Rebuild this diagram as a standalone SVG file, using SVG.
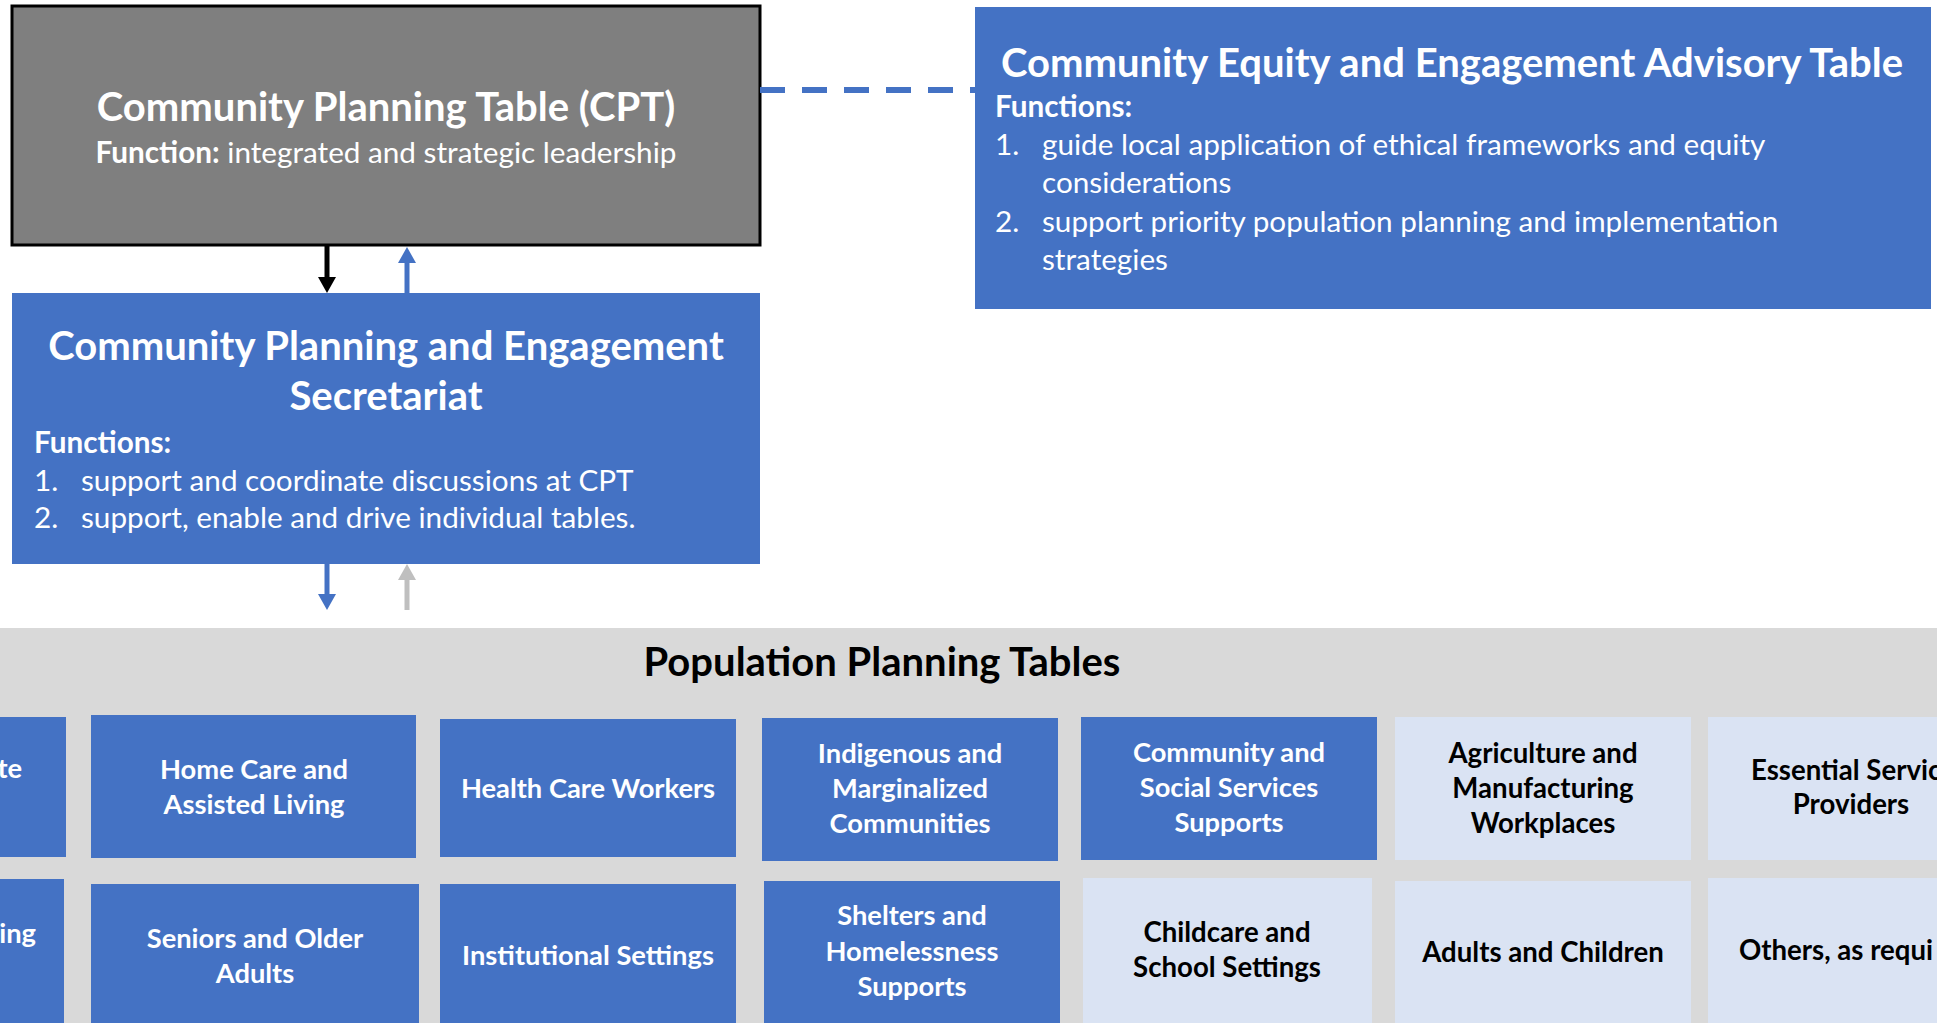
<svg xmlns="http://www.w3.org/2000/svg" width="1937" height="1023" viewBox="0 0 1937 1023">
<style>
text{font-family:Lato,"Open Sans","Liberation Sans",sans-serif}
.title{font-size:40px;font-weight:bold;fill:#fff;text-anchor:middle}
.body{font-size:29.7px;fill:#fff}
.b{font-weight:bold}
.blue{fill:#4472C4}
.light{fill:#DAE3F3}
.tw{font-size:27.3px;font-weight:bold;fill:#fff;text-anchor:middle}
.tk{font-size:27.6px;font-weight:bold;fill:#000;text-anchor:middle}
.conn{fill:none;stroke-width:5}
</style>
<defs>
<marker id="hBlack" markerUnits="userSpaceOnUse" markerWidth="18" markerHeight="18" refX="4" refY="9" orient="auto"><path d="M0,0 L16,9 L0,18 z" fill="#000"/></marker>
<marker id="hBlue" markerUnits="userSpaceOnUse" markerWidth="18" markerHeight="18" refX="4" refY="9" orient="auto"><path d="M0,0 L16,9 L0,18 z" fill="#4472C4"/></marker>
<marker id="hGray" markerUnits="userSpaceOnUse" markerWidth="18" markerHeight="18" refX="4" refY="9" orient="auto"><path d="M0,0 L16,9 L0,18 z" fill="#BFBFBF"/></marker>
</defs>
<rect x="0" y="0" width="1937" height="1023" fill="#fff"/>

<g id="population-planning-tables">
<rect x="0" y="628" width="1937" height="395" fill="#D9D9D9"/>
<text x="882" y="676" font-size="40" font-weight="bold" fill="#000" text-anchor="middle">Population Planning Tables</text>
</g>

<g id="cpt">
<rect x="12" y="6" width="748" height="239" fill="#7F7F7F" stroke="#000" stroke-width="3"/>
<text x="386" y="121" class="title">Community Planning Table (CPT)</text>
<text x="386" y="163" class="body" text-anchor="middle"><tspan class="b">Function:</tspan> integrated and strategic leadership</text>
</g>

<g id="ceeat">
<rect x="975" y="7" width="956" height="302" class="blue"/>
<text x="1452" y="77" class="title">Community Equity and Engagement Advisory Table</text>
<text x="995" y="117" class="body b">Functions:</text>
<text x="995" y="155" class="body">1.</text>
<text x="1042" y="155" class="body">guide local application of ethical frameworks and equity</text>
<text x="1042" y="193" class="body">considerations</text>
<text x="995" y="232" class="body">2.</text>
<text x="1042" y="232" class="body">support priority population planning and implementation</text>
<text x="1042" y="270" class="body">strategies</text>
</g>

<g id="secretariat">
<rect x="12" y="293" width="748" height="271" class="blue"/>
<text x="386" y="360" class="title">Community Planning and Engagement</text>
<text x="386" y="410" class="title">Secretariat</text>
<text x="34" y="453" class="body b">Functions:</text>
<text x="34" y="491" class="body">1.</text>
<text x="81" y="491" class="body">support and coordinate discussions at CPT</text>
<text x="34" y="528" class="body">2.</text>
<text x="81" y="528" class="body">support, enable and drive individual tables.</text>
</g>

<g id="connectors">
<line x1="760" y1="90" x2="975" y2="90" stroke="#4472C4" stroke-width="6" stroke-dasharray="25 17"/>
<line x1="327" y1="246" x2="327" y2="281" class="conn" stroke="#000" marker-end="url(#hBlack)"/>
<line x1="407" y1="293" x2="407" y2="259" class="conn" stroke="#4472C4" marker-end="url(#hBlue)"/>
<line x1="327" y1="564" x2="327" y2="598" class="conn" stroke="#4472C4" marker-end="url(#hBlue)"/>
<line x1="407" y1="610" x2="407" y2="576" class="conn" stroke="#BFBFBF" marker-end="url(#hGray)"/>
</g>

<g id="tile-partial-1">
<rect x="-10" y="717" width="76" height="140" class="blue"/>
<text x="22" y="778" class="tw" style="text-anchor:end">te</text>
</g>
<g id="tile-home-care">
<rect x="91" y="715" width="325" height="143" class="blue"/>
<text x="254" y="779" class="tw">Home Care and</text>
<text x="254" y="814" class="tw">Assisted Living</text>
</g>
<g id="tile-health-care-workers">
<rect x="440" y="719" width="296" height="138" class="blue"/>
<text x="588" y="798" class="tw">Health Care Workers</text>
</g>
<g id="tile-indigenous">
<rect x="762" y="718" width="296" height="143" class="blue"/>
<text x="910" y="763" class="tw">Indigenous and</text>
<text x="910" y="798" class="tw">Marginalized</text>
<text x="910" y="833" class="tw">Communities</text>
</g>
<g id="tile-community-social">
<rect x="1081" y="717" width="296" height="143" class="blue"/>
<text x="1229" y="762" class="tw">Community and</text>
<text x="1229" y="797" class="tw">Social Services</text>
<text x="1229" y="832" class="tw">Supports</text>
</g>
<g id="tile-agriculture">
<rect x="1395" y="717" width="296" height="143" class="light"/>
<text x="1543" y="763" class="tk">Agriculture and</text>
<text x="1543" y="798" class="tk">Manufacturing</text>
<text x="1543" y="833" class="tk">Workplaces</text>
</g>
<g id="tile-essential">
<rect x="1708" y="717" width="260" height="143" class="light"/>
<text x="1751" y="780" class="tk" style="text-anchor:start">Essential Servic</text>
<text x="1851" y="814" class="tk">Providers</text>
</g>

<g id="tile-partial-2">
<rect x="-10" y="879" width="74" height="144" class="blue"/>
<text x="36" y="943" class="tw" style="text-anchor:end">ing</text>
</g>
<g id="tile-seniors">
<rect x="91" y="884" width="328" height="140" class="blue"/>
<text x="255" y="948" class="tw">Seniors and Older</text>
<text x="255" y="983" class="tw">Adults</text>
</g>
<g id="tile-institutional">
<rect x="440" y="884" width="296" height="140" class="blue"/>
<text x="588" y="965" class="tw">Institutional Settings</text>
</g>
<g id="tile-shelters">
<rect x="764" y="881" width="296" height="142" class="blue"/>
<text x="912" y="925" class="tw">Shelters and</text>
<text x="912" y="961" class="tw">Homelessness</text>
<text x="912" y="996" class="tw">Supports</text>
</g>
<g id="tile-childcare">
<rect x="1083" y="878" width="289" height="145" class="light"/>
<text x="1227" y="942" class="tk">Childcare and</text>
<text x="1227" y="977" class="tk">School Settings</text>
</g>
<g id="tile-adults-children">
<rect x="1395" y="881" width="296" height="142" class="light"/>
<text x="1543" y="962" class="tk">Adults and Children</text>
</g>
<g id="tile-others">
<rect x="1708" y="878" width="260" height="145" class="light"/>
<text x="1739" y="960" class="tk" style="text-anchor:start">Others, as requi</text>
</g>
</svg>
